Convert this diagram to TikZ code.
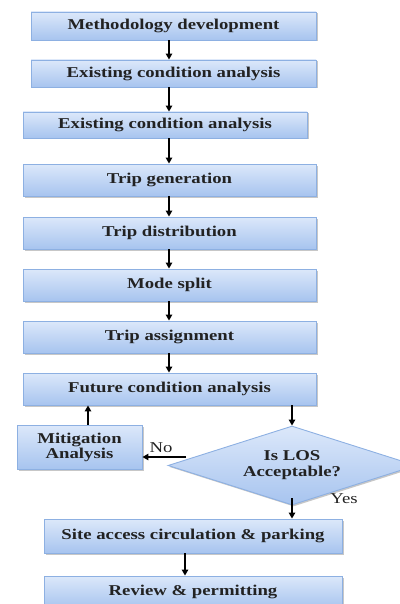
\documentclass[tikz,border=0pt]{standalone}
\usepackage{fontspec}
\usepackage{graphicx}
\setmainfont{Liberation Serif}
\usetikzlibrary{shapes.geometric,arrows.meta,shadows}
\definecolor{boxtop}{HTML}{DCE8FA}
\definecolor{boxbot}{HTML}{A7C4EF}
\definecolor{boxline}{HTML}{8DB0E2}
\definecolor{txt}{HTML}{222222}
\newcommand\sx[1]{\scalebox{1.25}[1]{#1}}
\tikzset{
  box/.style={draw=boxline, line width=0.9pt, top color=boxtop, bottom color=boxbot,
    inner sep=0pt, align=center, text=txt,
    font=\fontsize{15}{15}\selectfont\bfseries,
    drop shadow={shadow xshift=1.5pt, shadow yshift=-1.5pt, fill=black, opacity=0.22}},
  arr/.style={line width=1.3pt, -{Triangle[length=6pt,width=6.5pt]}},
  lbl/.style={font=\fontsize{15}{15}\selectfont, inner sep=0pt, text=txt}
}
\begin{document}
\begin{tikzpicture}[x=1pt,y=-1pt]
\useasboundingbox (0,0) rectangle (399,604);
\node[box, minimum width=285pt, minimum height=28pt] (b1) at (173.5,26) {\sx{Methodology development}};
\node[box, minimum width=285pt, minimum height=27pt] (b2) at (173.5,73.5) {\sx{Existing condition analysis}};
\node[box, minimum width=284pt, minimum height=26pt] (b3) at (165,125) {\sx{Existing condition analysis}};
\node[box, minimum width=293pt, minimum height=32pt] (b4) at (169.5,180) {\sx{Trip generation}};
\node[box, minimum width=293pt, minimum height=32pt] (b5) at (169.5,233) {\sx{Trip distribution}};
\node[box, minimum width=293pt, minimum height=32pt] (b6) at (169.5,285) {\sx{Mode split}};
\node[box, minimum width=293pt, minimum height=32pt] (b7) at (169.5,337) {\sx{Trip assignment}};
\node[box, minimum width=293pt, minimum height=32pt] (b8) at (169.5,389) {\sx{Future condition analysis}};
\node[box, minimum width=125pt, minimum height=44pt] (mit) at (79.5,447) {\sx{Mitigation}\\\sx{Analysis}};
\node[box, diamond, aspect=3.14, minimum width=248pt, minimum height=79pt, font=\fontsize{15}{16}\selectfont\bfseries] (dia) at (292,465.5) {\sx{Is LOS}\\\sx{Acceptable?}};
\node[box, minimum width=298pt, minimum height=34pt] (site) at (193,536) {\sx{Site access circulation \& parking}};
\node[box, minimum width=298pt, minimum height=32pt] (rev) at (193,592) {\sx{Review \& permitting}};

\node[lbl] (no) at (161,448) {\sx{No}};
\node[lbl] (yes) at (344,499) {\sx{Yes}};

\coordinate (ax) at (169,0);
\coordinate (mx) at (88,0);
\coordinate (sxc) at (185,0);
\coordinate (nostart) at (186,457);

\draw[arr] (b1.south -| ax) -- (b2.north -| ax);
\draw[arr] (b2.south -| ax) -- (b3.north -| ax);
\draw[arr] (b3.south -| ax) -- (b4.north -| ax);
\draw[arr] (b4.south -| ax) -- (b5.north -| ax);
\draw[arr] (b5.south -| ax) -- (b6.north -| ax);
\draw[arr] (b6.south -| ax) -- (b7.north -| ax);
\draw[arr] (b7.south -| ax) -- (b8.north -| ax);
\draw[arr] (b8.south -| dia.north) -- (dia.north);
\draw[arr] (mit.north -| mx) -- (b8.south -| mx);
\draw[arr] (nostart) -- (nostart -| mit.east);
\draw[arr] ([yshift=7pt]dia.south) -- (site.north -| dia.south);
\draw[arr] (site.south -| sxc) -- (rev.north -| sxc);
\end{tikzpicture}
\end{document}
